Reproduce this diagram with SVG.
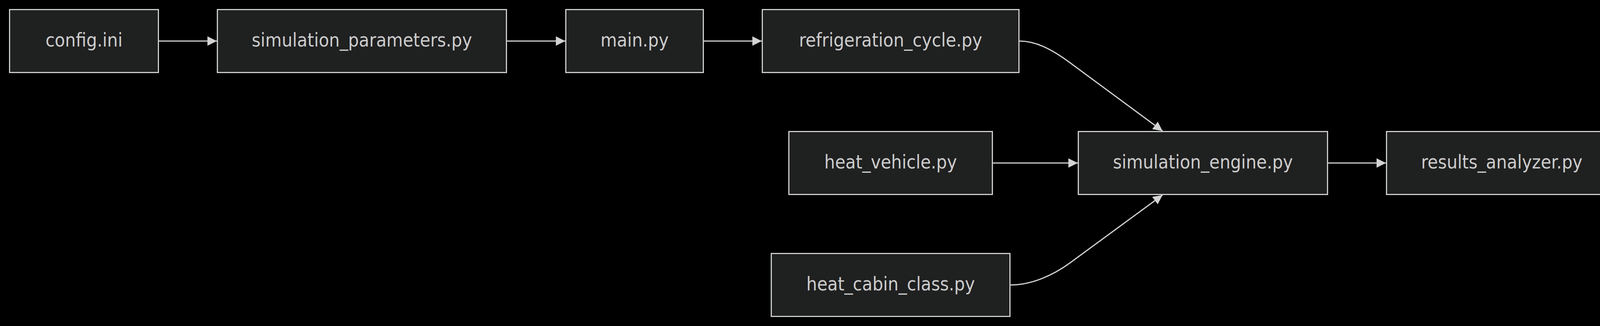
<svg xmlns="http://www.w3.org/2000/svg" width="4731" height="834" viewBox="0 0 4731 834">
  <defs>
    <marker id="arrow" viewBox="0 0 10 10" refX="10" refY="5" markerUnits="userSpaceOnUse" markerWidth="24" markerHeight="24" orient="auto">
      <path d="M0,0 L10,5 L0,10 z" fill="#d3d3d3"/>
    </marker>
    <style>
      .node rect { fill: #1f2020; stroke: #cccccc; stroke-width: 3; }
      .node text { fill: #cccccc; font-family: "DejaVu Sans Condensed", "DejaVu Sans", sans-serif; font-stretch: condensed; font-size: 48px; text-anchor: middle; }
      .edge { fill: none; stroke: #d3d3d3; stroke-width: 3; marker-end: url(#arrow); }
    </style>
  </defs>
  <rect x="0" y="0" width="4731" height="834" fill="#000000"/>

  <g id="connectors">
    <path class="edge" d="M407,105 L555,105"/>
    <path class="edge" d="M1298,105 L1447,105"/>
    <path class="edge" d="M1802,105 L1950,105"/>
    <path class="edge" d="M2610,105 C2650,105 2690,124 2740,161 L2976,335"/>
    <path class="edge" d="M2542,417 L2759,417"/>
    <path class="edge" d="M2587,729 C2640,729 2695,705 2740,672 L2976,499"/>
    <path class="edge" d="M3400,417 L3548,417"/>
    <path class="edge" d="M4141,417 L4289,417"/>
  </g>

  <g id="config_ini" class="node">
    <rect x="24.5" y="24.5" width="381" height="161"/>
    <text x="215" y="119">config.ini</text>
  </g>
  <g id="simulation_parameters" class="node">
    <rect x="556.5" y="24.5" width="740" height="161"/>
    <text x="926.5" y="119">simulation_parameters.py</text>
  </g>
  <g id="main" class="node">
    <rect x="1448.5" y="24.5" width="352" height="161"/>
    <text x="1624.5" y="119">main.py</text>
  </g>
  <g id="refrigeration_cycle" class="node">
    <rect x="1951.5" y="24.5" width="657" height="161"/>
    <text x="2280" y="119">refrigeration_cycle.py</text>
  </g>
  <g id="heat_vehicle" class="node">
    <rect x="2019.5" y="336.5" width="521" height="161"/>
    <text x="2280" y="431">heat_vehicle.py</text>
  </g>
  <g id="heat_cabin_class" class="node">
    <rect x="1974.5" y="648.5" width="611" height="161"/>
    <text x="2280" y="743">heat_cabin_class.py</text>
  </g>
  <g id="simulation_engine" class="node">
    <rect x="2760.5" y="336.5" width="638" height="161"/>
    <text x="3079.5" y="431">simulation_engine.py</text>
  </g>
  <g id="results_analyzer" class="node">
    <rect x="3549.5" y="336.5" width="590" height="161"/>
    <text x="3844.5" y="431">results_analyzer.py</text>
  </g>
  <g id="plotting" class="node">
    <rect x="4290.5" y="336.5" width="416" height="161"/>
    <text x="4498.5" y="431">plotting.py</text>
  </g>
</svg>
